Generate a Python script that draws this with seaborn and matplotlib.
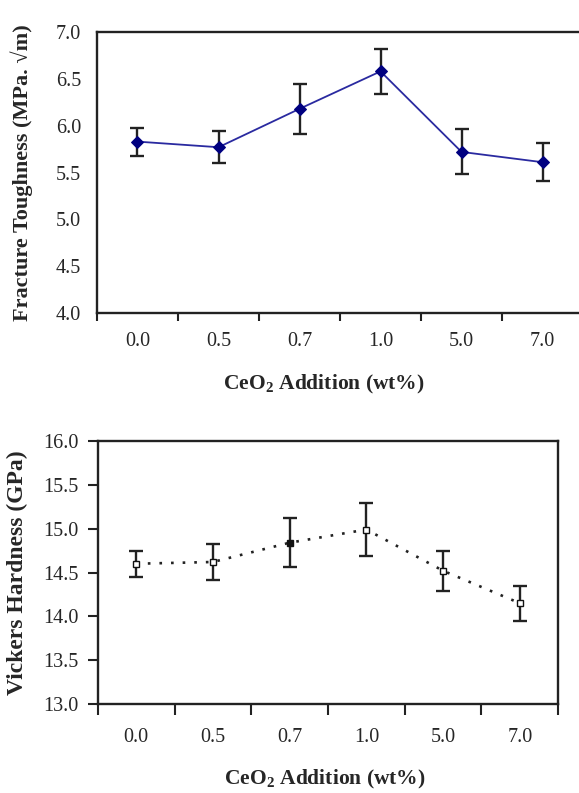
import matplotlib
matplotlib.use("Agg")
import matplotlib.pyplot as plt
import seaborn as sns
import numpy as np
import pandas as pd

categories = ["0.0", "0.5", "0.7", "1.0", "5.0", "7.0"]
toughness = [5.83, 5.77, 6.18, 6.58, 5.72, 5.61]
toughness_err = [0.15, 0.17, 0.27, 0.24, 0.24, 0.20]
hardness = [14.60, 14.62, 14.84, 14.99, 14.52, 14.15]
hardness_err = [0.15, 0.21, 0.28, 0.30, 0.23, 0.20]
hardness_filled = [False, False, True, False, False, False]

sns.set_theme(style="white")
plt.rcParams['font.family'] = ['Liberation Serif', 'DejaVu Serif']
plt.rcParams['mathtext.fontset'] = 'custom'
plt.rcParams['mathtext.rm'] = 'Liberation Serif'
plt.rcParams['mathtext.bf'] = 'Liberation Serif:bold'

fig = plt.figure(figsize=(5.79, 7.93), dpi=100)
ax1 = fig.add_axes([0.1675, 0.6053, 0.8395, 0.3543])
ax2 = fig.add_axes([0.169, 0.1122, 0.795, 0.3317])

pos = np.arange(len(categories))
df1 = pd.DataFrame({"x": pos, "y": toughness})
df2 = pd.DataFrame({"x": pos, "y": hardness})

# top chart
ax1.errorbar(pos, toughness, yerr=toughness_err, fmt='none', ecolor='#222222',
             elinewidth=1.7, capsize=5, capthick=1.7, zorder=2)
sns.lineplot(data=df1, x="x", y="y", ax=ax1, color='#2a2aa0', lw=1.3,
             marker='D', markersize=6, markerfacecolor='#000080',
             markeredgecolor='#000080', zorder=3)

# bottom chart
ax2.errorbar(pos, hardness, yerr=hardness_err, fmt='none', ecolor='#222222',
             elinewidth=1.7, capsize=5, capthick=1.7, zorder=2)
sns.lineplot(data=df2, x="x", y="y", ax=ax2, color='#222222', lw=1.9,
             linestyle=(0, (1, 3.4)), zorder=3)
for xi, yi, f in zip(pos, hardness, hardness_filled):
    ax2.plot([xi], [yi], marker='s', markersize=4.5,
             markerfacecolor='#111111' if f else 'white',
             markeredgecolor='#111111', markeredgewidth=1.0, zorder=4)

specs = [
    # ax, ylim, ylabel, ylabel size, ytick len, ytick pad, xtick len, xtick pad, ylabel x, xlabel (x, y)
    (ax1, (4.0, 7.0), "Fracture Toughness (MPa. \u221am)", 16, 0, 11.5, 5.5, 14, -0.132, (0.467, -0.213)),
    (ax2, (13.0, 16.0), "Vickers Hardness (GPa)", 17, 7, 7, 8, 17.5, -0.152, (0.493, -0.243)),
]
for ax, ylim, ylab, ylfs, ytl, ypad, xtl, xpad, ylx, xlxy in specs:
    yt = np.arange(ylim[0], ylim[1] + 0.01, 0.5)
    ax.set_xlim(-0.5, len(categories) - 0.5)
    ax.set_ylim(*ylim)
    ax.set_yticks(yt)
    ax.set_yticklabels([f"{v:.1f}" for v in yt], fontsize=14.5)
    ax.set_xticks(np.arange(-0.5, len(categories) + 0.5, 1.0))
    ax.set_xticklabels([])
    ax.set_xticks(pos, minor=True)
    ax.set_xticklabels(categories, minor=True, fontsize=14.5)
    ax.tick_params(axis='x', which='major', direction='out', length=xtl, width=1.5,
                   color='#222222', bottom=True)
    ax.tick_params(axis='x', which='minor', length=0, pad=xpad)
    ax.tick_params(axis='y', direction='out', length=ytl, width=1.5, color='#222222',
                   left=True, pad=ypad)
    for s in ax.spines.values():
        s.set_color('#222222')
        s.set_linewidth(1.7)
    ax.set_xlabel("CeO$_\\mathbf{2}$ Addition (wt%)", fontsize=15.5, fontweight='bold')
    ax.xaxis.set_label_coords(*xlxy)
    ax.set_ylabel(ylab, fontsize=ylfs, fontweight='bold')
    ax.yaxis.set_label_coords(ylx, 0.5)

ax1.spines['right'].set_visible(False)

fig.savefig("out.png", dpi=100)
